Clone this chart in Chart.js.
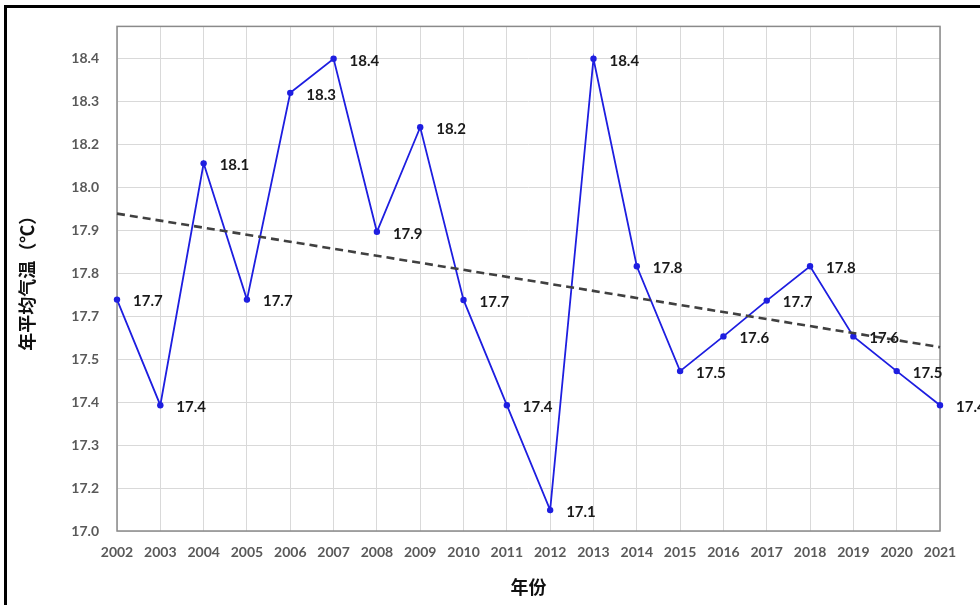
<!DOCTYPE html>
<html>
<head>
<meta charset="utf-8">
<script src="https://cdn.jsdelivr.net/npm/chart.js@4/dist/chart.umd.min.js"></script>
<style>
  html, body { margin: 0; padding: 0; background: #fff; overflow: hidden; }
  #frame { position: absolute; left: 4px; top: 5px; width: 1100px; height: 800px;
           border-left: 3px solid #000; border-top: 3px solid #000; }
  #wrap { position: absolute; left: 0; top: 0; width: 980px; height: 605px; }
</style>
</head>
<body>
<div id="frame"></div>
<div id="wrap"><canvas id="chart" width="980" height="605"></canvas></div>
<script>
const years = ["2002", "2003", "2004", "2005", "2006", "2007", "2008", "2009", "2010", "2011",
  "2012", "2013", "2014", "2015", "2016", "2017", "2018", "2019", "2020", "2021"];

// positions
const temps = [17.686, 17.373, 18.090, 17.686, 18.299, 18.400, 17.887, 18.197, 17.685, 17.373,
  17.062, 18.400, 17.785, 17.474, 17.577, 17.683, 17.785, 17.577, 17.474, 17.373];

const tempLabels = ["17.7", "17.4", "18.1", "17.7", "18.3", "18.4", "17.9", "18.2", "17.7", "17.4",
  "17.1", "18.4", "17.8", "17.5", "17.6", "17.7", "17.8", "17.6", "17.5", "17.4"];

const trendStart = 17.941;
const trendEnd = 17.545;

const yTickLabels = ["17.0", "17.2", "17.3", "17.4", "17.5", "17.7", "17.8", "17.9", "18.0", "18.2", "18.3", "18.4"];

const yMin = 17.0;
const yTop = 18.4;
const yMax = 18.496;
const yTickValues = yTickLabels.map((_, i) => yMin + (i * (yTop - yMin)) / (yTickLabels.length - 1));

const trend = years.map((_, i) => (i === 0 ? trendStart : i === years.length - 1 ? trendEnd : null));

const plotBorder = {
  id: "plotBorder",
  beforeDatasetsDraw(chart) {
    const { ctx, chartArea } = chart;
    ctx.save();
    ctx.strokeStyle = "#8a8a8a";
    ctx.lineWidth = 1.5;
    ctx.strokeRect(chartArea.left, chartArea.top, chartArea.right - chartArea.left, chartArea.bottom - chartArea.top);
    ctx.restore();
  }
};

const pointLabels = {
  id: "pointLabels",
  afterDatasetsDraw(chart) {
    const { ctx } = chart;
    const meta = chart.getDatasetMeta(1);
    ctx.save();
    ctx.font = "bold 15px Lato, 'Open Sans', sans-serif";
    ctx.fillStyle = "#1a1a1a";
    ctx.textAlign = "left";
    ctx.textBaseline = "middle";
    meta.data.forEach((pt, i) => {
      ctx.fillText(tempLabels[i], pt.x + 16, pt.y + 2);
    });
    ctx.restore();
  }
};

new Chart(document.getElementById("chart"), {
  type: "line",
  data: {
    labels: years,
    datasets: [
      {
        label: "trend",
        data: trend,
        spanGaps: true,
        borderColor: "#404040",
        borderWidth: 2.6,
        borderDash: [8, 5],
        pointRadius: 0,
        fill: false,
        order: 0
      },
      {
        label: "年平均气温",
        data: temps,
        borderColor: "#1e1ee0",
        backgroundColor: "#1e1ee0",
        borderWidth: 1.8,
        pointRadius: 3.2,
        pointBackgroundColor: "#1e1ee0",
        pointBorderWidth: 0,
        tension: 0,
        fill: false,
        order: 1
      }
    ]
  },
  options: {
    responsive: false,
    animation: false,
    devicePixelRatio: 1,
    layout: {
      padding: { top: 25, right: 40, bottom: 0, left: 8 }
    },
    plugins: {
      legend: { display: false },
      tooltip: { enabled: false }
    },
    scales: {
      x: {
        type: "category",
        offset: false,
        grid: { color: "#d9d9d9", lineWidth: 1, drawTicks: false },
        border: { display: false },
        ticks: {
          color: "#595959",
          padding: 13,
          maxRotation: 0,
          autoSkip: false,
          font: { family: "Lato, 'Open Sans', sans-serif", size: 14, weight: "bold" }
        },
        title: {
          display: true,
          text: "年份",
          color: "#111",
          padding: { top: 0, bottom: 7 },
          font: { family: "'Noto Sans CJK SC', sans-serif", size: 18, weight: "bold" }
        },
        afterFit(scale) {
          scale.height = 74;
        }
      },
      y: {
        min: yMin,
        max: yMax,
        afterBuildTicks(scale) {
          scale.ticks = yTickValues.map((v) => ({ value: v }));
        },
        grid: { color: "#d9d9d9", lineWidth: 1, drawTicks: false },
        border: { display: false },
        ticks: {
          color: "#595959",
          padding: 18,
          font: { family: "Lato, 'Open Sans', sans-serif", size: 14, weight: "bold" },
          callback: (value, index) => yTickLabels[index]
        },
        title: {
          display: true,
          text: "年平均气温（℃）",
          color: "#111",
          padding: { top: 8, bottom: 0 },
          font: { family: "'Noto Sans CJK SC', sans-serif", size: 18, weight: "bold" }
        },
        afterFit(scale) {
          scale.width = 109;
        }
      }
    }
  },
  plugins: [plotBorder, pointLabels]
});
</script>
</body>
</html>
